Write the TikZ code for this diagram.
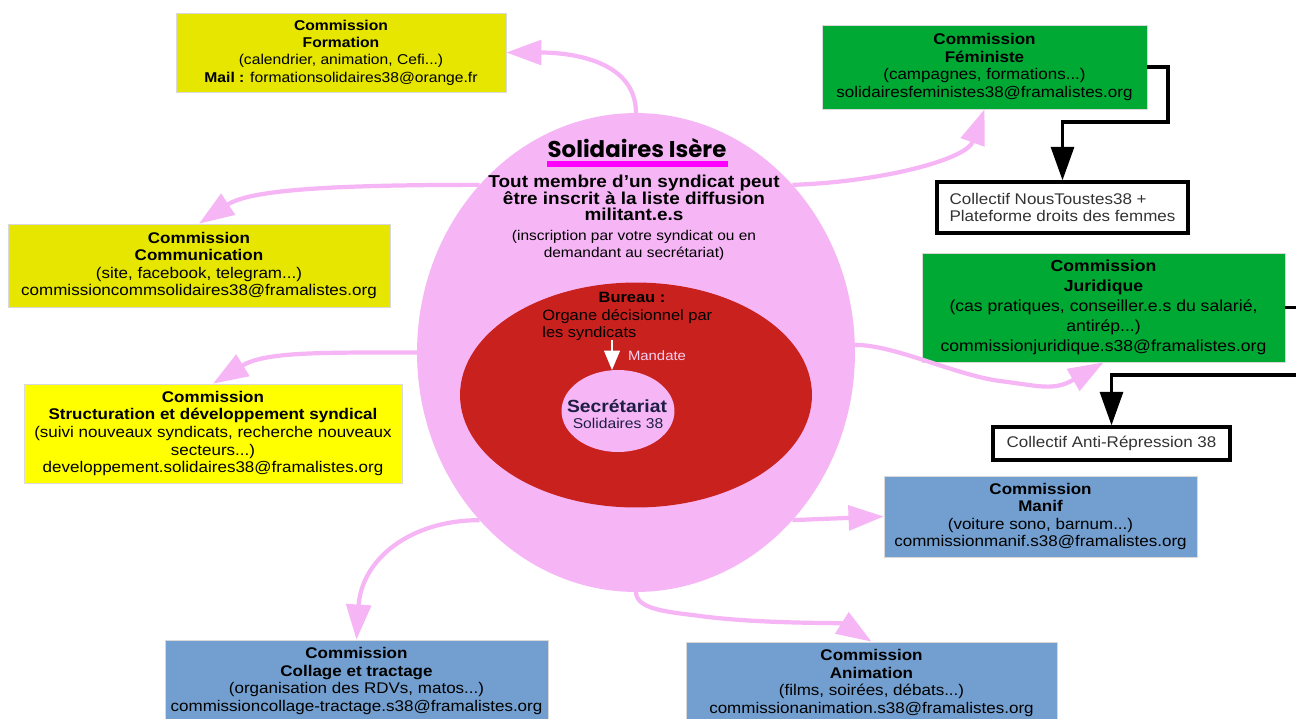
\documentclass[tikz,border=0pt]{standalone}
\usepackage{fontspec}
\setmainfont{Liberation Sans}[FakeStretch=1.1]
\newfontfamily\titlefont{Poppins}
\usepackage{tikz}
\usetikzlibrary{arrows.meta,shapes.geometric,positioning}
\definecolor{comyellow}{HTML}{E6E600}
\definecolor{devyellow}{HTML}{FFFF00}
\definecolor{comgreen}{HTML}{00A933}
\definecolor{comblue}{HTML}{729FCF}
\definecolor{solpink}{HTML}{F6B6F6}
\definecolor{burred}{HTML}{C9211E}
\definecolor{barmagenta}{HTML}{FF00FF}
\definecolor{mandpink}{HTML}{F8D2F2}
\definecolor{secnavy}{HTML}{1E1E44}
\newcommand{\cbfont}{\fontsize{8.8}{10}\selectfont}

\begin{document}
\begin{tikzpicture}[x=0.02cm, y=-0.02cm,
    combox/.style={rectangle, draw=black!15, inner sep=0pt, align=center, font=\cbfont},
    colbox/.style={rectangle, draw=black, line width=1.9pt, fill=white, inner sep=0pt, align=left, font=\cbfont, text=black!80},
    pinkarrow/.style={draw=solpink, line width=2.4pt, -{Triangle[length=20pt,width=14pt]}},
    blkarrow/.style={draw=black, line width=1.9pt, -{Triangle[length=19pt,width=13pt]}},
    whitearrow/.style={draw=white, line width=0.9pt, -{Triangle[length=11pt,width=9pt]}}]
      \path[use as bounding box, fill=white] (0,0) rectangle (1296,718);

      \begin{scope}[every node/.style={ellipse, inner sep=0pt, outer sep=0pt}]
          \node[fill=solpink, minimum width=8.76cm, minimum height=9.58cm] (sol) at (636,352.5) {};
          \node[fill=burred, minimum width=7.04cm, minimum height=4.5cm] (bur) at (636,395) {};
          \node[fill=solpink, minimum width=2.26cm, minimum height=1.64cm] (sec) at (618,411) {};
      \end{scope}

      \node[font=\titlefont\bfseries\fontsize{13}{15}\selectfont, anchor=base, inner sep=0pt] (title) at (637,157) {Solidaires Isère};
      \fill[barmagenta] (547,161) rectangle (728,167);
      \node[font=\fontsize{9.8}{9.4}\selectfont\bfseries, align=center, anchor=north, inner sep=0pt] (info) at (634,175) {Tout membre d’un syndicat peut\\ être inscrit à la liste diffusion\\ militant.e.s};
      \node[font=\fontsize{8}{9.7}\selectfont, align=center, anchor=north, inner sep=0pt] (insc) at (634,230) {(inscription par votre syndicat ou en\\ demandant au secrétariat)};

      \node[font=\fontsize{8.5}{9.7}\selectfont\bfseries, anchor=base, inner sep=0pt] (burtitle) at (632,302) {Bureau :};
      \node[font=\fontsize{8.5}{9.7}\selectfont, align=left, anchor=north west, inner sep=0pt] (burtext) at (542,309.5) {Organe décisionnel par\\ les syndicats};
      \node[font=\fontsize{7.7}{9}\selectfont, text=mandpink, anchor=base, inner sep=0pt] (mandlabel) at (657,360) {Mandate};
      \node[font=\fontsize{10}{11}\selectfont\bfseries, text=secnavy, anchor=base, inner sep=0pt] (sectitle) at (617,412) {Secrétariat};
      \node[font=\fontsize{8.1}{9}\selectfont, text=secnavy, anchor=base, inner sep=0pt] (secsub) at (618,428) {Solidaires 38};
      \coordinate (mand) at (612,340);

      \node[combox, fill=comyellow, minimum width=6.6cm, minimum height=1.58cm, font=\fontsize{8.1}{9.8}\selectfont] (form) at (341,52.5) {\textbf{Commission}\\ \textbf{Formation}\\ (calendrier, animation, Cefi...)\\ \textbf{Mail :} formationsolidaires38@orange.fr};
      \node[combox, fill=comyellow, minimum width=7.64cm, minimum height=1.66cm] (comm) at (199,265.5) {\textbf{Commission}\\ \textbf{Communication}\\ (site, facebook, telegram...)\\ commissioncommsolidaires38@framalistes.org};
      \node[combox, fill=devyellow, minimum width=7.56cm, minimum height=1.98cm] (struc) at (213,433.5) {\textbf{Commission}\\ \textbf{Structuration et développement syndical}\\ (suivi nouveaux syndicats, recherche nouveaux\\ secteurs...)\\ developpement.solidaires38@framalistes.org};
      \node[combox, fill=comgreen, minimum width=6.5cm, minimum height=1.68cm] (femi) at (984.5,67) {\textbf{Commission}\\ \textbf{Féministe}\\ (campagnes, formations...)\\ solidairesfeministes38@framalistes.org};
      \node[combox, fill=comgreen, minimum width=7.26cm, minimum height=2.18cm, font=\fontsize{9.1}{11.3}\selectfont] (juri) at (1103.5,307.5) {\textbf{Commission}\\ \textbf{Juridique}\\ (cas pratiques, conseiller.e.s du salarié,\\ antirép...)\\ commissionjuridique.s38@framalistes.org};
      \node[combox, fill=comblue, minimum width=6.26cm, minimum height=1.62cm] (manif) at (1040.5,516.5) {\textbf{Commission}\\ \textbf{Manif}\\ (voiture sono, barnum...)\\ commissionmanif.s38@framalistes.org};
      \node[combox, fill=comblue, minimum width=7.66cm, minimum height=1.64cm] (coll) at (356.5,681) {\textbf{Commission}\\ \textbf{Collage et tractage}\\ (organisation des RDVs, matos...)\\ commissioncollage-tractage.s38@framalistes.org};
      \node[combox, fill=comblue, minimum width=7.42cm, minimum height=1.64cm] (anim) at (871.5,683) {\textbf{Commission}\\ \textbf{Animation}\\ (films, soirées, débats...)\\ commissionanimation.s38@framalistes.org};

      \node[colbox, minimum width=5.02cm, minimum height=1.02cm, font=\fontsize{8.8}{9.7}\selectfont] (nous) at (1062.5,207.5) {Collectif NousToustes38 +\\ Plateforme droits des femmes};
      \node[colbox, minimum width=4.74cm, minimum height=0.66cm] (anti) at (1111.5,443.5) {Collectif Anti-Répression 38};
      \coordinate (jout) at (1300,307.5);
      \coordinate (jin) at (1300,375);

      \draw[whitearrow] (mand) -- (mand |- sec.north);

      \draw[pinkarrow] (sol.north) to[out=90, in=0] (form.east);
      \draw[pinkarrow] (sol.133) .. controls +(-147,0) and +(51,-34) .. (comm.north);
      \draw[pinkarrow] (sol.west) .. controls +(-97,0) and +(52,-32) .. (struc.north);
      \draw[pinkarrow] (sol.47) .. controls +(90,-3) and +(-18,50) .. (femi.south);
      \draw[pinkarrow] (sol.2) .. controls +(40,0) and +(-45,-6) .. (1000,381) .. controls +(40,5) and +(-50,29) .. (juri.south);
      \draw[pinkarrow] (sol.-47) -- (manif.west);
      \draw[pinkarrow] (sol.-133) .. controls +(-70,0) and +(5,-80) .. (coll.north);
      \draw[pinkarrow] (sol.south) .. controls +(0,18) and +(-30,-4) .. (700,616) .. controls +(60,8) and +(-30,-19) .. (anim.north);

      \draw[blkarrow] (femi.east) -| (1168,122) -| (nous.north);
      \draw[blkarrow, -] (juri.east) -- (jout);
      \draw[blkarrow] (jin) -| (anti.north);
\end{tikzpicture}
\end{document}
